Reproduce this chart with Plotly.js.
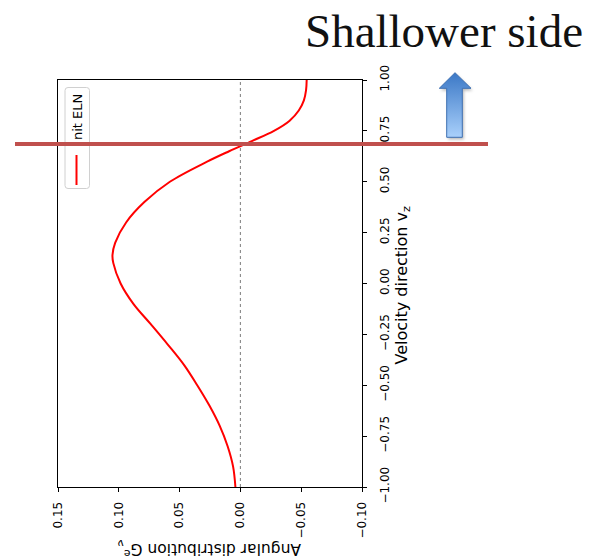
<!DOCTYPE html>
<html>
<head>
<meta charset="utf-8">
<script src="https://cdn.plot.ly/plotly-3.0.1.min.js"></script>
<style>html,body{margin:0;padding:0;background:#fff;}#chart{width:590px;height:559px;}</style>
</head>
<body>
<div id="chart"></div>
<script>
// ---- data ----
const velocityDir = [-1.0,-0.9,-0.8,-0.7,-0.6,-0.5,-0.4,-0.3,-0.2,-0.1,0.0,0.1,0.14,0.2,0.3,0.4,0.5,0.6,0.65,0.7,0.75,0.8,0.85,0.9,0.95,1.0];
const angularG    = [0.0041,0.006,0.0105,0.017,0.0255,0.0355,0.0464,0.0597,0.0737,0.088,0.0985,0.1045,0.1052,0.103,0.094,0.079,0.058,0.027,0.0093,-0.0094,-0.0276,-0.0405,-0.048,-0.0522,-0.0540,-0.0545];
const gTickVals   = [0.15,0.10,0.05,0.00,-0.05,-0.10];
const gTickText   = ['0.15','0.10','0.05','0.00','\u22120.05','\u22120.10'];
const vTickVals   = [-1.0,-0.75,-0.5,-0.25,0.0,0.25,0.5,0.75,1.0];
const vTickText   = ['\u22121.00','\u22120.75','\u22120.50','\u22120.25','0.00','0.25','0.50','0.75','1.00'];
const legendLabel = 'nit ELN';
const markerVz    = 0.686;
const titleText   = 'Shallower side';

// ---- layout helpers (pixel -> paper) ----
const W = 590, H = 559, L = 58, R = 362, T = 80, B = 487;
const px = x => (x - L) / (R - L);
const py = y => (B - y) / (B - T);

function roundRectPath(x0, y0, x1, y1, r) {
  const P = (x, y) => px(x) + ',' + py(y);
  return 'M' + P(x0 + r, y0) + ' L' + P(x1 - r, y0) + ' Q' + P(x1, y0) + ' ' + P(x1, y0 + r) +
         ' L' + P(x1, y1 - r) + ' Q' + P(x1, y1) + ' ' + P(x1 - r, y1) +
         ' L' + P(x0 + r, y1) + ' Q' + P(x0, y1) + ' ' + P(x0, y1 - r) +
         ' L' + P(x0, y0 + r) + ' Q' + P(x0, y0) + ' ' + P(x0 + r, y0) + ' Z';
}

const arrowSvg =
  '<svg xmlns="http://www.w3.org/2000/svg" width="42" height="72" viewBox="0 0 42 72">' +
  '<defs><linearGradient id="g" x1="0" y1="0" x2="0" y2="1">' +
  '<stop offset="0" stop-color="#3b78c6"/><stop offset="1" stop-color="#a9d0fb"/></linearGradient>' +
  '<filter id="f" x="-30%" y="-30%" width="160%" height="160%"><feGaussianBlur stdDeviation="1.5"/></filter></defs>' +
  '<polygon points="21.5,5 5.8,20.5 13.2,20.5 13.2,69.5 28.8,69.5 28.8,20.5 37.5,20.5" fill="rgba(0,0,0,0.28)" filter="url(#f)"/>' +
  '<polygon points="20,2.7 4.3,18.3 11.7,18.3 11.7,67.3 27.3,67.3 27.3,18.3 36,18.3" fill="url(#g)" stroke="#3e70b2" stroke-width="1"/>' +
  '</svg>';

const tickFont = {family: 'DejaVu Sans', size: 12, color: '#000'};

const traces = [{
  type: 'scatter', mode: 'lines',
  x: angularG, y: velocityDir,
  line: {color: '#ff0000', width: 2, shape: 'spline', smoothing: 1},
  showlegend: false, hoverinfo: 'skip'
}];

const layout = {
  width: W, height: H,
  margin: {l: L, r: W - R, t: T, b: H - B, pad: 0},
  paper_bgcolor: '#fff', plot_bgcolor: '#fff',
  showlegend: false,
  xaxis: {
    range: [0.15, -0.10], tickvals: gTickVals, ticktext: gTickText,
    tickangle: -90, ticks: 'outside', ticklen: 4, tickwidth: 1, tickcolor: '#000',
    ticklabelstandoff: 5,
    showline: true, linecolor: '#000', linewidth: 1, mirror: true,
    showgrid: false, zeroline: false, tickfont: tickFont
  },
  yaxis: {
    range: [-1, 1], side: 'right', tickvals: vTickVals, ticktext: vTickText,
    tickangle: -90, ticks: 'outside', ticklen: 4, tickwidth: 1, tickcolor: '#000',
    ticklabelstandoff: 8,
    showline: true, linecolor: '#000', linewidth: 1, mirror: true,
    showgrid: false, zeroline: false, tickfont: tickFont
  },
  shapes: [
    {type: 'line', xref: 'x', yref: 'paper', x0: 0, x1: 0, y0: 0, y1: 1,
     line: {color: '#888', width: 1.1, dash: 'dot'}, layer: 'below'},
    {type: 'path', xref: 'paper', yref: 'paper', path: roundRectPath(65, 87.5, 89.5, 188.5, 3),
     fillcolor: 'rgba(255,255,255,0.8)', line: {color: '#d0d0d0', width: 1}},
    {type: 'line', xref: 'paper', yref: 'paper', x0: px(76.5), x1: px(76.5), y0: py(155), y1: py(185),
     line: {color: '#ff0000', width: 2}},
    {type: 'line', xref: 'paper', yref: 'y', x0: px(15), x1: px(488), y0: markerVz, y1: markerVz,
     line: {color: '#c0504d', width: 4}}
  ],
  annotations: [
    {text: titleText, xref: 'paper', yref: 'paper', x: px(585), y: py(31), xanchor: 'right', yanchor: 'middle',
     showarrow: false, font: {family: 'Liberation Serif', size: 47, color: '#111'}},
    {text: legendLabel, xref: 'paper', yref: 'paper', x: px(77), y: py(117), textangle: -90,
     xanchor: 'center', yanchor: 'middle', showarrow: false,
     font: {family: 'DejaVu Sans', size: 13, color: '#000'}},
    {text: 'Velocity direction v<sub>z</sub>', xref: 'paper', yref: 'paper', x: px(401.5), y: py(285),
     textangle: -90, xanchor: 'center', yanchor: 'middle', showarrow: false,
     font: {family: 'DejaVu Sans', size: 16, color: '#000'}},
    {text: 'Angular distribution G<sup>e</sup><sub>\u03bd</sub>', xref: 'paper', yref: 'paper', x: px(210), y: py(549),
     textangle: 180, xanchor: 'center', yanchor: 'middle', showarrow: false,
     font: {family: 'DejaVu Sans', size: 15.5, color: '#000'}}
  ],
  images: [{
    source: 'data:image/svg+xml;charset=utf-8,' + encodeURIComponent(arrowSvg),
    xref: 'paper', yref: 'paper', x: px(435), y: py(70), sizex: 42 / (R - L), sizey: 72 / (B - T),
    xanchor: 'left', yanchor: 'top', sizing: 'stretch', layer: 'above'
  }]
};

Plotly.newPlot('chart', traces, layout, {staticPlot: true, displayModeBar: false});
</script>
</body>
</html>
